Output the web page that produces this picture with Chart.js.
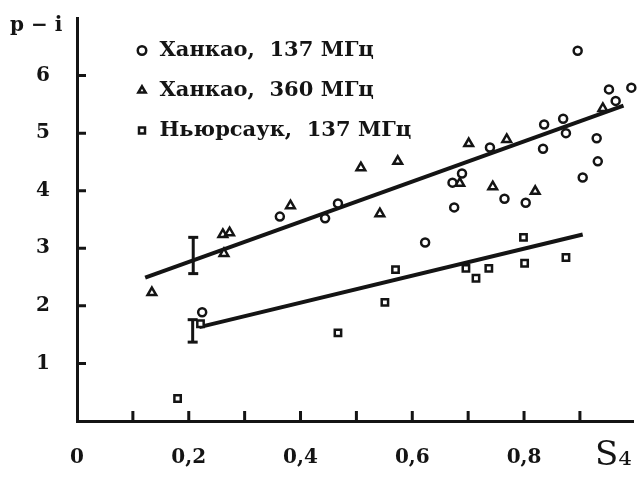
<!DOCTYPE html>
<html>
<head>
<meta charset="utf-8">
<script src="https://cdn.jsdelivr.net/npm/chart.js@4"></script>
<style>
	body { margin: 0; background: #fff; }
</style>
</head>
<body>
<canvas id="s4chart" width="641" height="486"></canvas>
<script>
// [S4, p-i]
const hankao137 = [
	[0.896, 6.43], [0.952, 5.76], [0.992, 5.79], [0.964, 5.56], [0.870, 5.25],
	[0.836, 5.15], [0.875, 5.00], [0.930, 4.91], [0.834, 4.73], [0.932, 4.51],
	[0.905, 4.23], [0.739, 4.75], [0.689, 4.30], [0.672, 4.14], [0.675, 3.71],
	[0.765, 3.86], [0.803, 3.79], [0.623, 3.10], [0.467, 3.78], [0.444, 3.52],
	[0.363, 3.55], [0.224, 1.89]
];
const hankao360 = [
	[0.134, 2.23], [0.263, 2.91], [0.261, 3.24], [0.273, 3.27], [0.382, 3.74],
	[0.508, 4.40], [0.574, 4.51], [0.542, 3.60], [0.701, 4.82], [0.769, 4.89],
	[0.685, 4.13], [0.744, 4.07], [0.820, 3.99], [0.941, 5.43]
];
const newhaven137 = [
	[0.180, 0.39], [0.221, 1.69], [0.467, 1.53], [0.551, 2.06], [0.570, 2.63],
	[0.696, 2.65], [0.714, 2.48], [0.737, 2.65], [0.799, 3.19], [0.801, 2.74],
	[0.875, 2.84]
];
const upperFit = [[0.122, 2.49], [0.978, 5.48]];
const lowerFit = [[0.219, 1.63], [0.905, 3.24]];
const upperErr = [[0.208, 3.19], [0.208, 2.56]];
const lowerErr = [[0.207, 1.76], [0.207, 1.37]];

const seriesNames = ["Ханкао,  137 МГц", "Ханкао,  360 МГц", "Ньюрсаук,  137 МГц"];
const xTickValues = [0, 0.2, 0.4, 0.6, 0.8, 0.96];
const xTickLabels = ["0", "0,2", "0,4", "0,6", "0,8", "S₄"];
const xMarks = [0.1, 0.2, 0.3, 0.4, 0.5, 0.6, 0.7, 0.8, 0.9];
const yTickValues = [1, 2, 3, 4, 5, 6];
const yLabel = "p − i";

const ink = "#141414";
const serif = "'DejaVu Serif', 'Liberation Serif', serif";

function pts(arr) {
	return arr.map(p => ({ x: p[0], y: p[1] }));
}

function marks(style, radius) {
	return {
		showLine: false,
		pointStyle: style,
		pointRadius: radius,
		pointHoverRadius: radius,
		borderColor: ink,
		backgroundColor: "#fff",
		borderWidth: 2.5,
		clip: false
	};
}

function line(arr, width, style, radius) {
	return {
		data: pts(arr),
		showLine: true,
		borderColor: ink,
		backgroundColor: ink,
		borderWidth: width,
		pointStyle: style,
		pointRadius: radius,
		pointBorderWidth: 3,
		clip: false
	};
}

// tick marks point inward on this figure
const innerTicks = {
	id: "innerTicks",
	afterDraw(chart) {
		const { ctx, chartArea } = chart;
		const xs = chart.scales.x, ys = chart.scales.y;
		ctx.save();
		ctx.strokeStyle = ink;
		ctx.lineWidth = 3;
		ctx.beginPath();
		xMarks.forEach(v => {
			const px = xs.getPixelForValue(v);
			ctx.moveTo(px, chartArea.bottom);
			ctx.lineTo(px, chartArea.bottom - 10);
		});
		yTickValues.forEach(v => {
			const py = ys.getPixelForValue(v);
			ctx.moveTo(chartArea.left, py);
			ctx.lineTo(chartArea.left + 9, py);
		});
		ctx.stroke();
		ctx.restore();
	}
};

// legend inside the plot up at the left, axis name above the y axis
const placeBoxes = {
	id: "placeBoxes",
	afterLayout(chart) {
		const lg = chart.legend;
		lg.left = 116;
		lg.top = chart.chartArea.top + 3;
		lg.right = lg.left + lg.width;
		lg.bottom = lg.top + lg.height;
		const t = chart.titleBlock;
		if (t) {
			const h = t.bottom - t.top;
			t.top = 17;
			t.bottom = 17 + h;
			t.left = 10;
		}
	}
};

new Chart(document.getElementById("s4chart"), {
	type: "scatter",
	data: {
		datasets: [
			Object.assign({ label: seriesNames[0], data: pts(hankao137) }, marks("circle", 4)),
			Object.assign({ label: seriesNames[1], data: pts(hankao360) }, marks("triangle", 5)),
			Object.assign({ label: seriesNames[2], data: pts(newhaven137) }, marks("rect", 4.5)),
			line(upperFit, 4, "circle", 0),
			line(lowerFit, 4, "circle", 0),
			line(upperErr, 3, "line", 5),
			line(lowerErr, 3, "line", 5)
		]
	},
	options: {
		responsive: false,
		animation: false,
		layout: { padding: { left: 0, right: 4, top: 0, bottom: 0 } },
		plugins: {
			tooltip: { enabled: false },
			title: {
				display: true,
				text: yLabel,
				align: "start",
				color: ink,
				fullSize: false,
				font: { family: serif, size: 20, weight: "bold", lineHeight: 0.9 },
				padding: 0
			},
			legend: {
				position: "chartArea",
				align: "start",
				labels: {
					usePointStyle: true,
					boxWidth: 14,
					boxHeight: 6,
					padding: 19,
					color: ink,
					font: { family: serif, size: 21, weight: "bold" },
					filter: item => item.datasetIndex < 3
				}
			}
		},
		scales: {
			x: {
				type: "linear",
				min: 0,
				max: 0.995,
				afterBuildTicks: s => { s.ticks = xTickValues.map(v => ({ value: v })); },
				afterFit: s => { s.height = 65; s.paddingLeft = 0; s.paddingRight = 0; },
				grid: { drawOnChartArea: false, drawTicks: false },
				border: { display: true, width: 3, color: ink },
				ticks: {
					autoSkip: false,
					maxRotation: 0,
					padding: 25,
					color: ink,
					font: c => (c.tick && c.tick.value === 0.96)
						? { family: serif, size: 34, lineHeight: 0.6 }
						: { family: serif, size: 20, weight: "bold" },
					callback: v => {
						const i = xTickValues.indexOf(v);
						return i < 0 ? "" : xTickLabels[i];
					}
				}
			},
			y: {
				min: 0,
				max: 7,
				afterBuildTicks: s => { s.ticks = yTickValues.map(v => ({ value: v })); },
				afterFit: s => { s.width = 77; s.paddingTop = 0; s.paddingBottom = 0; },
				grid: { drawOnChartArea: false, drawTicks: false },
				border: { display: true, width: 3, color: ink },
				ticks: {
					padding: 27,
					color: ink,
					font: { family: serif, size: 20, weight: "bold" }
				}
			}
		}
	},
	plugins: [innerTicks, placeBoxes]
});
</script>
</body>
</html>
